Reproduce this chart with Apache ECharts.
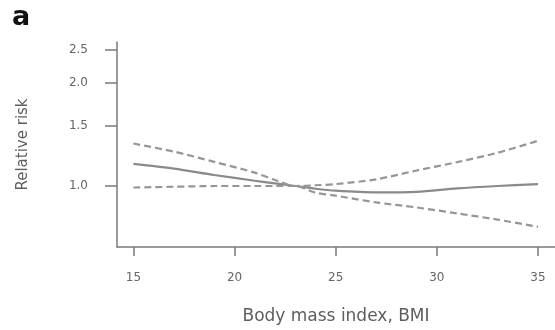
<!DOCTYPE html>
<html>
<head>
<meta charset="utf-8">
<script src="https://cdn.jsdelivr.net/npm/echarts@6/dist/echarts.min.js"></script>
<style>html,body{margin:0;padding:0;background:#fff;}#c{width:555px;height:330px;}</style>
</head>
<body>
<div id="c"></div>
<script>
// Data
const bmi   = [15, 17, 19, 21, 22, 23, 24, 25, 27, 29, 31, 33, 35];
const rr    = [1.16, 1.124, 1.077, 1.036, 1.018, 1.0, 0.982, 0.969, 0.958, 0.962, 0.984, 1.0, 1.013];
const upper = [1.33, 1.26, 1.176, 1.094, 1.041, 1.0, 1.005, 1.013, 1.046, 1.11, 1.174, 1.25, 1.355];
const lower = [0.99, 0.995, 1.0, 1.0, 1.0, 1.0, 0.956, 0.937, 0.896, 0.866, 0.832, 0.798, 0.76];
const xTicks = [15, 20, 25, 30, 35];
const yTicks = [1.0, 1.5, 2.0, 2.5];

const pairs = arr => bmi.map((x, i) => [x, arr[i]]);
const chart = echarts.init(document.getElementById('c'), null, {renderer: 'canvas'});
const axisColor = '#7a7a7a';
const textColor = '#666666';
chart.setOption({
  animation: false,
  backgroundColor: '#ffffff',
  grid: {left: 117, top: 42, right: 0, bottom: 83, outerBoundsMode: 'none'},
  graphic: [{
    type: 'text', left: 12, top: 4,
    style: {text: 'a', font: 'bold 27px "DejaVu Sans"', fill: '#111'}
  }],
  xAxis: {
    type: 'value', min: 14.19, max: 35.84,
    name: 'Body mass index, BMI', nameLocation: 'middle', nameGap: 61,
    nameTextStyle: {fontFamily: 'DejaVu Sans', fontSize: 17, color: '#5e5e5e'},
    axisLine: {show: true, lineStyle: {color: axisColor, width: 1.5}},
    axisTick: {show: true, length: 9, customValues: xTicks, lineStyle: {color: axisColor, width: 1.5}},
    axisLabel: {customValues: xTicks, margin: 25, fontFamily: 'DejaVu Sans', fontSize: 12, color: textColor},
    splitLine: {show: false}
  },
  yAxis: {
    type: 'log', logBase: Math.E, min: 0.664, max: 2.63,
    name: 'Relative risk', nameLocation: 'middle', nameGap: 86, nameRotate: 90,
    nameTextStyle: {fontFamily: 'DejaVu Sans', fontSize: 15, color: '#5e5e5e'},
    axisLine: {show: true, lineStyle: {color: axisColor, width: 1.5}},
    axisTick: {show: true, length: 12, customValues: yTicks, lineStyle: {color: axisColor, width: 1.5}},
    axisLabel: {customValues: yTicks, margin: 29, fontFamily: 'DejaVu Sans', fontSize: 12, color: textColor,
      formatter: v => Number(v).toFixed(1)},
    splitLine: {show: false}
  },
  series: [
    {type: 'line', name: 'RR', data: pairs(rr), showSymbol: false, smooth: 0.3,
      lineStyle: {color: '#8a8a8a', width: 2.2}},
    {type: 'line', name: 'Upper', data: pairs(upper), showSymbol: false, smooth: 0.3,
      lineStyle: {color: '#969696', width: 2.2, type: [7, 4]}},
    {type: 'line', name: 'Lower', data: pairs(lower), showSymbol: false, smooth: 0.3,
      lineStyle: {color: '#969696', width: 2.2, type: [7, 4]}}
  ]
});
</script>
</body>
</html>
